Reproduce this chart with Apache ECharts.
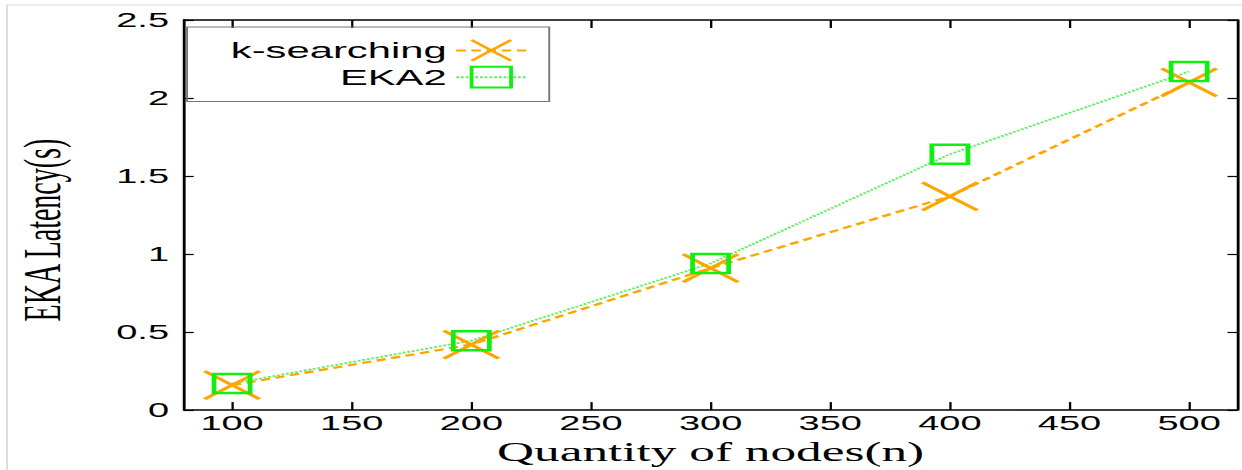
<!DOCTYPE html>
<html>
<head>
  <meta charset="utf-8">
  <title>EKA Latency</title>
  <script src="https://cdn.jsdelivr.net/npm/echarts@6/dist/echarts.min.js"></script>
  <style>
    html, body { margin: 0; padding: 0; background: #fff; overflow: hidden; }
    /* the reference figure is stretched sideways, so draw narrow and scale */
    #main { width: 654px; height: 470px; transform: scaleX(1.899); transform-origin: 0 0; }
  </style>
</head>
<body>
  <div id="main"></div>
  <script type="text/javascript">
    // data
    var nodes = [100, 200, 300, 400, 500];
    var kSearching = [0.16, 0.42, 0.91, 1.37, 2.1];
    var eka2 = [0.17, 0.445, 0.94, 1.64, 2.17];
    var xTicks = [100, 150, 200, 250, 300, 350, 400, 450, 500];

    function pairs(xs, ys) {
      return xs.map(function (x, i) { return [x, ys[i]]; });
    }

    var myChart = echarts.init(document.getElementById('main'), null, { renderer: 'svg' });

    var sans = 'Liberation Sans, Arial, sans-serif';
    var serif = 'Liberation Serif, Times New Roman, serif';
    var axisLine = { show: true, onZero: false, lineStyle: { color: '#000', width: 1.5 } };

    var option = {
      backgroundColor: '#fff',
      animation: false,
      graphic: [{
        type: 'rect',
        shape: { x: 3.7, y: 5, width: 700, height: 500 },
        style: { fill: 'none', stroke: '#ddd', lineWidth: 1 },
        silent: true
      }],
      grid: { left: 90.6, right: 2.6, top: 20, bottom: 57 },
      legend: {
        orient: 'vertical',
        align: 'right',
        left: 98.5,
        top: 27,
        padding: [12, 11, 13, 23],
        itemGap: 4,
        itemWidth: 37,
        itemHeight: 26,
        borderColor: '#777',
        borderWidth: 1,
        textStyle: { fontFamily: sans, fontSize: 22, color: '#000' },
        data: ['k-searching', 'EKA2']
      },
      xAxis: [{
        type: 'value',
        min: 80,
        max: 520,
        name: 'Quantity of nodes(n)',
        nameLocation: 'middle',
        nameGap: 24,
        nameTextStyle: { fontFamily: serif, fontSize: 27, color: '#000' },
        axisLine: axisLine,
        axisTick: { show: true, inside: true, length: 8, customValues: xTicks, lineStyle: { color: '#000', width: 1.2 } },
        axisLabel: { customValues: xTicks, fontFamily: sans, fontSize: 20, color: '#000', margin: 3 },
        splitLine: { show: false }
      }, {
        type: 'value',
        position: 'top',
        min: 80,
        max: 520,
        axisLine: axisLine,
        axisTick: { show: true, inside: true, length: 8, customValues: xTicks, lineStyle: { color: '#000', width: 1.2 } },
        axisLabel: { show: false },
        splitLine: { show: false }
      }],
      yAxis: [{
        type: 'value',
        min: 0,
        max: 2.5,
        interval: 0.5,
        name: 'EKA Latency(s)',
        nameLocation: 'middle',
        nameGap: 61,
        nameTextStyle: { fontFamily: serif, fontSize: 28, color: '#000', padding: [0, 30, 0, 0] },
        axisLine: axisLine,
        axisTick: { show: true, inside: true, length: 5, lineStyle: { color: '#000', width: 1.2 } },
        axisLabel: { fontFamily: sans, fontSize: 20, color: '#000', margin: 8 },
        splitLine: { show: false }
      }, {
        type: 'value',
        position: 'right',
        min: 0,
        max: 2.5,
        interval: 0.5,
        axisLine: axisLine,
        axisTick: { show: true, inside: true, length: 5, lineStyle: { color: '#000', width: 1.2 } },
        axisLabel: { show: false },
        splitLine: { show: false }
      }],
      series: [{
        name: 'k-searching',
        type: 'line',
        data: pairs(nodes, kSearching),
        symbol: 'path://M0,0L10,10M10,0L0,10',
        symbolSize: [29, 28],
        itemStyle: { color: '#ffa500', borderColor: '#ffa500', borderWidth: 2.5 },
        lineStyle: { color: '#ffa500', width: 2.2, type: [5, 3] }
      }, {
        name: 'EKA2',
        type: 'line',
        data: pairs(nodes, eka2),
        symbol: 'rect',
        symbolSize: [19, 19],
        itemStyle: { color: 'rgba(0,0,0,0)', borderColor: '#11ee11', borderWidth: 2.5 },
        lineStyle: { color: '#66ee66', width: 1.8, type: [1.5, 1] }
      }]
    };

    myChart.setOption(option);
  </script>
</body>
</html>
